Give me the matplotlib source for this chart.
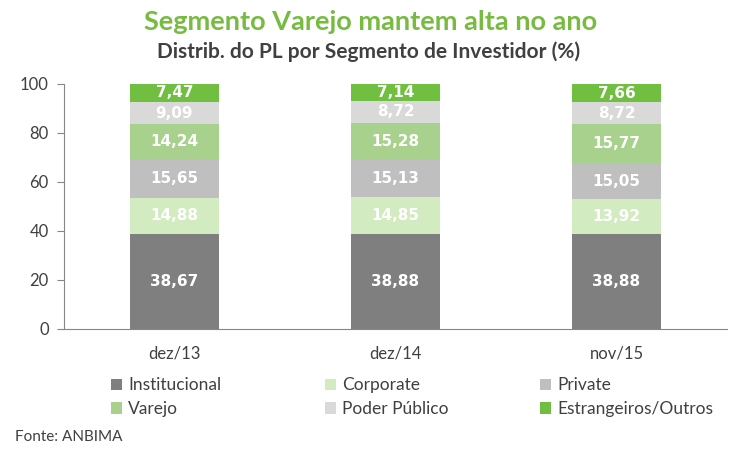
import matplotlib.pyplot as plt
import numpy as np

# Periods and segment shares (%)
periodos = ['dez/13', 'dez/14', 'nov/15']
segmentos = ['Institucional', 'Corporate', 'Private', 'Varejo', 'Poder Público', 'Estrangeiros/Outros']
institucional = [38.67, 38.88, 38.88]
corporate = [14.88, 14.85, 13.92]
private = [15.65, 15.13, 15.05]
varejo = [14.24, 15.28, 15.77]
poder_publico = [9.09, 8.72, 8.72]
estrangeiros = [7.47, 7.14, 7.66]

cores = ['#7f7f7f', '#d3ebc0', '#bfbfbf', '#a9d18e', '#d9d9d9', '#70bf41']

plt.rcParams['font.family'] = ['Lato', 'DejaVu Sans']

fig = plt.figure(figsize=(7.5, 4.5), dpi=100)
ax = fig.add_axes([0.0853, 0.269, 0.884, 0.545])

x = np.arange(len(periodos))
series = [institucional, corporate, private, varejo, poder_publico, estrangeiros]
base = np.zeros(len(periodos))
handles = []
for nome, vals, cor in zip(segmentos, series, cores):
    bars = ax.bar(x, vals, 0.4, bottom=base, color=cor, label=nome)
    handles.append(bars)
    for xi, b, v in zip(x, base, vals):
        ax.text(xi, b + v / 2, f'{v:.2f}'.replace('.', ','), ha='center', va='center',
                color='white', fontsize=11, fontweight='bold', family='DejaVu Sans')
    base = base + np.array(vals)

ax.set_xlim(-0.5, 2.5)
ax.set_ylim(0, 100)
ax.set_yticks(range(0, 101, 20))
ax.set_xticks(x)
ax.set_xticklabels(periodos)
for s in ['top', 'right']:
    ax.spines[s].set_visible(False)
for s in ['left', 'bottom']:
    ax.spines[s].set_color('#868686')
ax.tick_params(axis='y', colors='#868686', labelcolor='#404040', labelsize=12, length=5, pad=6)
ax.tick_params(axis='x', length=0, labelcolor='#404040', labelsize=12, pad=12)

fig.text(0.494, 0.952, 'Segmento Varejo mantem alta no ano', ha='center', va='center',
         color='#77bb41', fontsize=19.5, fontweight='bold')
fig.text(0.491, 0.884, 'Distrib. do PL por Segmento de Investidor (%)', ha='center', va='center',
         color='#404040', fontsize=15, fontweight='bold')

# legend in three columns, row-major order
for i, xpos in enumerate([0.148, 0.433, 0.72]):
    fig.legend([handles[i], handles[i + 3]], [segmentos[i], segmentos[i + 3]],
               loc='center left', bbox_to_anchor=(xpos, 0.117), frameon=False,
               fontsize=12.5, handlelength=0.65, handleheight=0.65, handletextpad=0.35,
               labelspacing=0.45, borderaxespad=0, borderpad=0, labelcolor='#404040')

fig.text(0.02, 0.028, 'Fonte: ANBIMA', ha='left', va='center', color='#404040', fontsize=11)

fig.savefig('out.png', dpi=100)
